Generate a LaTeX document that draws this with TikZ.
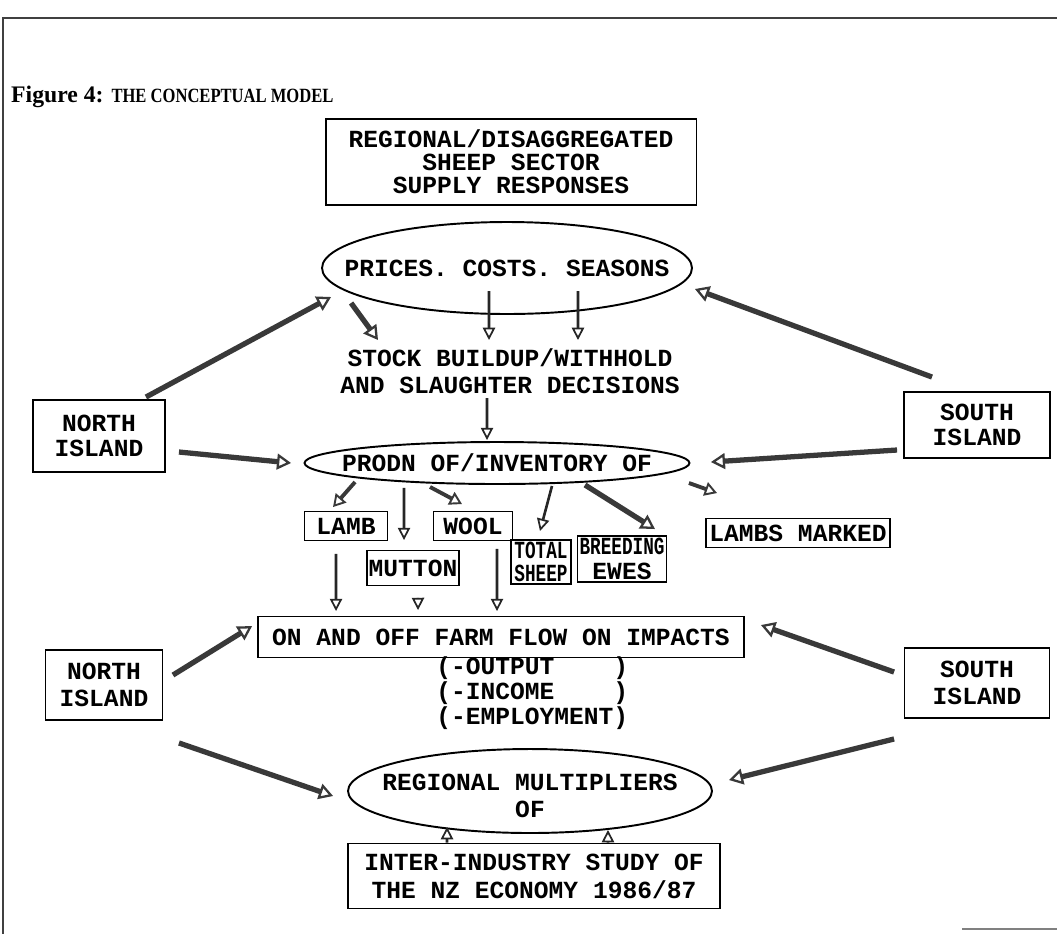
\documentclass[tikz,border=0pt]{standalone}
\usepackage{fontspec}
\setmainfont{Liberation Serif}
\newfontfamily\typefont{Liberation Mono}
\usepackage{graphicx}
\usetikzlibrary{positioning, arrows.meta, shapes.geometric}
\newcommand{\squeeze}[1]{\scalebox{0.72}[1]{#1}}
\tikzstyle{box} = [rectangle, draw=black, line width=1.1pt, inner sep=1pt, align=center, font=\typefont\bfseries\fontsize{14}{14}\selectfont]
\tikzstyle{oval} = [ellipse, draw=black, line width=1.1pt, inner sep=0pt]
\tikzstyle{words} = [inner sep=0pt, align=center, font=\typefont\bfseries\fontsize{14}{15}\selectfont]
\tikzstyle{bigarrow} = [line width=3pt, draw=gray!45!black, -{Triangle[open, length=8pt, width=9pt, line width=1.3pt]}]
\tikzstyle{midarrow} = [line width=2.2pt, draw=gray!45!black, -{Triangle[open, length=7pt, width=8pt, line width=1.1pt]}]
\tikzstyle{thinarrow} = [line width=1.5pt, draw=black!85, -{Triangle[open, length=7pt, width=7pt, line width=1pt]}]
\begin{document}
\begin{tikzpicture}[x=0.02cm, y=-0.02cm]
    \useasboundingbox (0,0) rectangle (1057,934);
    % Frame
    \draw [line width=1.3pt, black!75] (1057,18) -- (3,18) -- (3,934);
    \draw [line width=0.8pt, black!50] (962,929) -- (1057,929);

    % Nodes
    \node (title) [anchor=west, font=\bfseries] at (5,97) {\fontsize{13.5}{15}\selectfont Figure 4: \fontsize{11.5}{13}\selectfont\scalebox{0.82}[1]{THE CONCEPTUAL MODEL}};
    \node (top) [box, minimum width=7.42cm, minimum height=1.72cm, font=\typefont\bfseries\fontsize{14}{13.2}\selectfont] at (511,162) {REGIONAL/DISAGGREGATED\\SHEEP SECTOR\\SUPPLY RESPONSES};
    \node (prices) [oval, minimum width=7.4cm, minimum height=1.84cm, label={[words]center:PRICES. COSTS. SEASONS}] at (507,268) {};
    \node (stock) [words, font=\typefont\bfseries\fontsize{14}{15.4}\selectfont] at (510,371) {STOCK BUILDUP/WITHHOLD\\AND SLAUGHTER DECISIONS};
    \node (northA) [box, minimum width=2.64cm, minimum height=1.44cm] at (99,436) {NORTH\\ISLAND};
    \node (southA) [box, minimum width=2.92cm, minimum height=1.32cm] at (977,425) {SOUTH\\ISLAND};
    \node (prodn) [oval, minimum width=7.7cm, minimum height=0.84cm, label={[words]center:PRODN OF/INVENTORY OF}] at (497,463) {};
    \node (lamb) [box, minimum width=1.66cm, minimum height=0.58cm] at (346,526) {LAMB};
    \node (wool) [box, minimum width=1.58cm, minimum height=0.58cm] at (473,526) {WOOL};
    \node (mutton) [box, minimum width=1.82cm, minimum height=0.7cm] at (413,568) {MUTTON};
    \node (total) [box, minimum width=1.2cm, minimum height=0.88cm, font=\typefont\bfseries\fontsize{14}{13}\selectfont] at (541,562) {\squeeze{TOTAL}\\\squeeze{SHEEP}};
    \node (breeding) [box, minimum width=1.78cm, minimum height=0.92cm, font=\typefont\bfseries\fontsize{14}{14}\selectfont] at (622,559) {\squeeze{BREEDING}\\EWES};
    \node (marked) [box, minimum width=3.68cm, minimum height=0.58cm] at (798,533) {LAMBS MARKED};
    \node (impacts) [box, minimum width=9.74cm, minimum height=0.82cm] at (501,637) {ON AND OFF FARM FLOW ON IMPACTS};
    \node (effects) [words, align=left, anchor=west, font=\typefont\bfseries\fontsize{14}{13}\selectfont] at (436,693) {(-OUTPUT\hphantom{XXXX})\\(-INCOME\hphantom{XXXX})\\(-EMPLOYMENT)};
    \node (northB) [box, minimum width=2.34cm, minimum height=1.4cm, font=\typefont\bfseries\fontsize{14}{15}\selectfont] at (104,685) {NORTH\\ISLAND};
    \node (southB) [box, minimum width=2.9cm, minimum height=1.4cm, font=\typefont\bfseries\fontsize{14}{15}\selectfont] at (977,683) {SOUTH\\ISLAND};
    \node (multipliers) [oval, minimum width=7.28cm, minimum height=1.68cm, label={[words, yshift=-0.1cm, font=\typefont\bfseries\fontsize{14}{15}\selectfont]center:REGIONAL MULTIPLIERS\\OF}] at (530,791) {};
    \node (study) [box, minimum width=7.44cm, minimum height=1.3cm, font=\typefont\bfseries\fontsize{14}{16}\selectfont] at (534,876) {INTER-INDUSTRY STUDY OF\\THE NZ ECONOMY 1986/87};

    % Arrows
    \draw [bigarrow] ([shift={(-0.4cm,0.04cm)}]northA.north east) -- ([shift={(0.2cm,-0.58cm)}]prices.west);
    \draw [bigarrow] ([shift={(-0.9cm,0.28cm)}]southA.north) -- ([shift={(0.04cm,-0.42cm)}]prices.east);
    \draw [bigarrow] ([shift={(0.6cm,-0.7cm)}]prices.west) -- ([shift={(-2.64cm,0.62cm)}]stock.center);
    \draw [thinarrow] ([shift={(-0.36cm,-0.46cm)}]prices.center) -- ([shift={(-0.42cm,0.62cm)}]stock.center);
    \draw [thinarrow] ([shift={(1.42cm,-0.46cm)}]prices.center) -- ([shift={(1.36cm,0.62cm)}]stock.center);
    \draw [thinarrow] ([shift={(-0.46cm,-0.54cm)}]stock.center) -- ([shift={(-0.2cm,0.02cm)}]prodn.north);
    \draw [bigarrow] ([shift={(0.26cm,-0.32cm)}]northA.east) -- ([xshift=-0.25cm]prodn.west);
    \draw [bigarrow] ([shift={(-0.12cm,-0.5cm)}]southA.west) -- ([shift={(0.41cm,0.02cm)}]prodn.east);
    \draw [midarrow] ([shift={(1.03cm,-0.38cm)}]prodn.west) -- ([shift={(-0.26cm,0.07cm)}]lamb.north);
    \draw [thinarrow] ([shift={(-1.86cm,-0.06cm)}]prodn.south) -- ([shift={(-0.18cm,0.19cm)}]mutton.north);
    \draw [midarrow] ([shift={(-1.34cm,-0.04cm)}]prodn.south) -- ([shift={(-0.22cm,0.13cm)}]wool.north);
    \draw [thinarrow] ([shift={(1.1cm,-0.02cm)}]prodn.south) -- ([shift={(-0.02cm,0.16cm)}]total.north);
    \draw [bigarrow] ([xshift=1.76cm]prodn.south) -- ([shift={(0.66cm,0.12cm)}]breeding.north);
    \draw [midarrow] ([shift={(-0.03cm,-0.4cm)}]prodn.east) -- ([shift={(0.24cm,0.49cm)}]marked.north west);
    \draw [thinarrow] ([shift={(-0.2cm,-0.25cm)}]lamb.south) -- ([shift={(-3.3cm,0.09cm)}]impacts.north);
    \draw [thinarrow] ([shift={(0.1cm,-0.23cm)}]mutton.south) -- ([shift={(-1.66cm,0.11cm)}]impacts.north);
    \draw [thinarrow] ([shift={(0.48cm,-0.15cm)}]wool.south) -- ([shift={(-0.08cm,0.09cm)}]impacts.north);
    \draw [bigarrow] ([shift={(0.19cm,-0.52cm)}]northB.north east) -- ([shift={(-0.09cm,-0.21cm)}]impacts.north west);
    \draw [bigarrow] ([shift={(-0.19cm,-0.5cm)}]southB.north west) -- ([shift={(0.31cm,-0.19cm)}]impacts.north east);
    \draw [bigarrow] ([shift={(0.31cm,-0.44cm)}]northB.south east) -- ([shift={(-0.28cm,-0.1cm)}]multipliers.west);
    \draw [bigarrow] ([shift={(-0.19cm,-0.4cm)}]southB.south west) -- ([shift={(0.32cm,0.22cm)}]multipliers.east);
    \draw [thinarrow] ([xshift=-1.74cm]study.north) -- ([shift={(-1.66cm,0.14cm)}]multipliers.south);
    \draw [thinarrow] ([xshift=1.48cm]study.north) -- ([shift={(1.56cm,0.08cm)}]multipliers.south);

\end{tikzpicture}
\end{document}
